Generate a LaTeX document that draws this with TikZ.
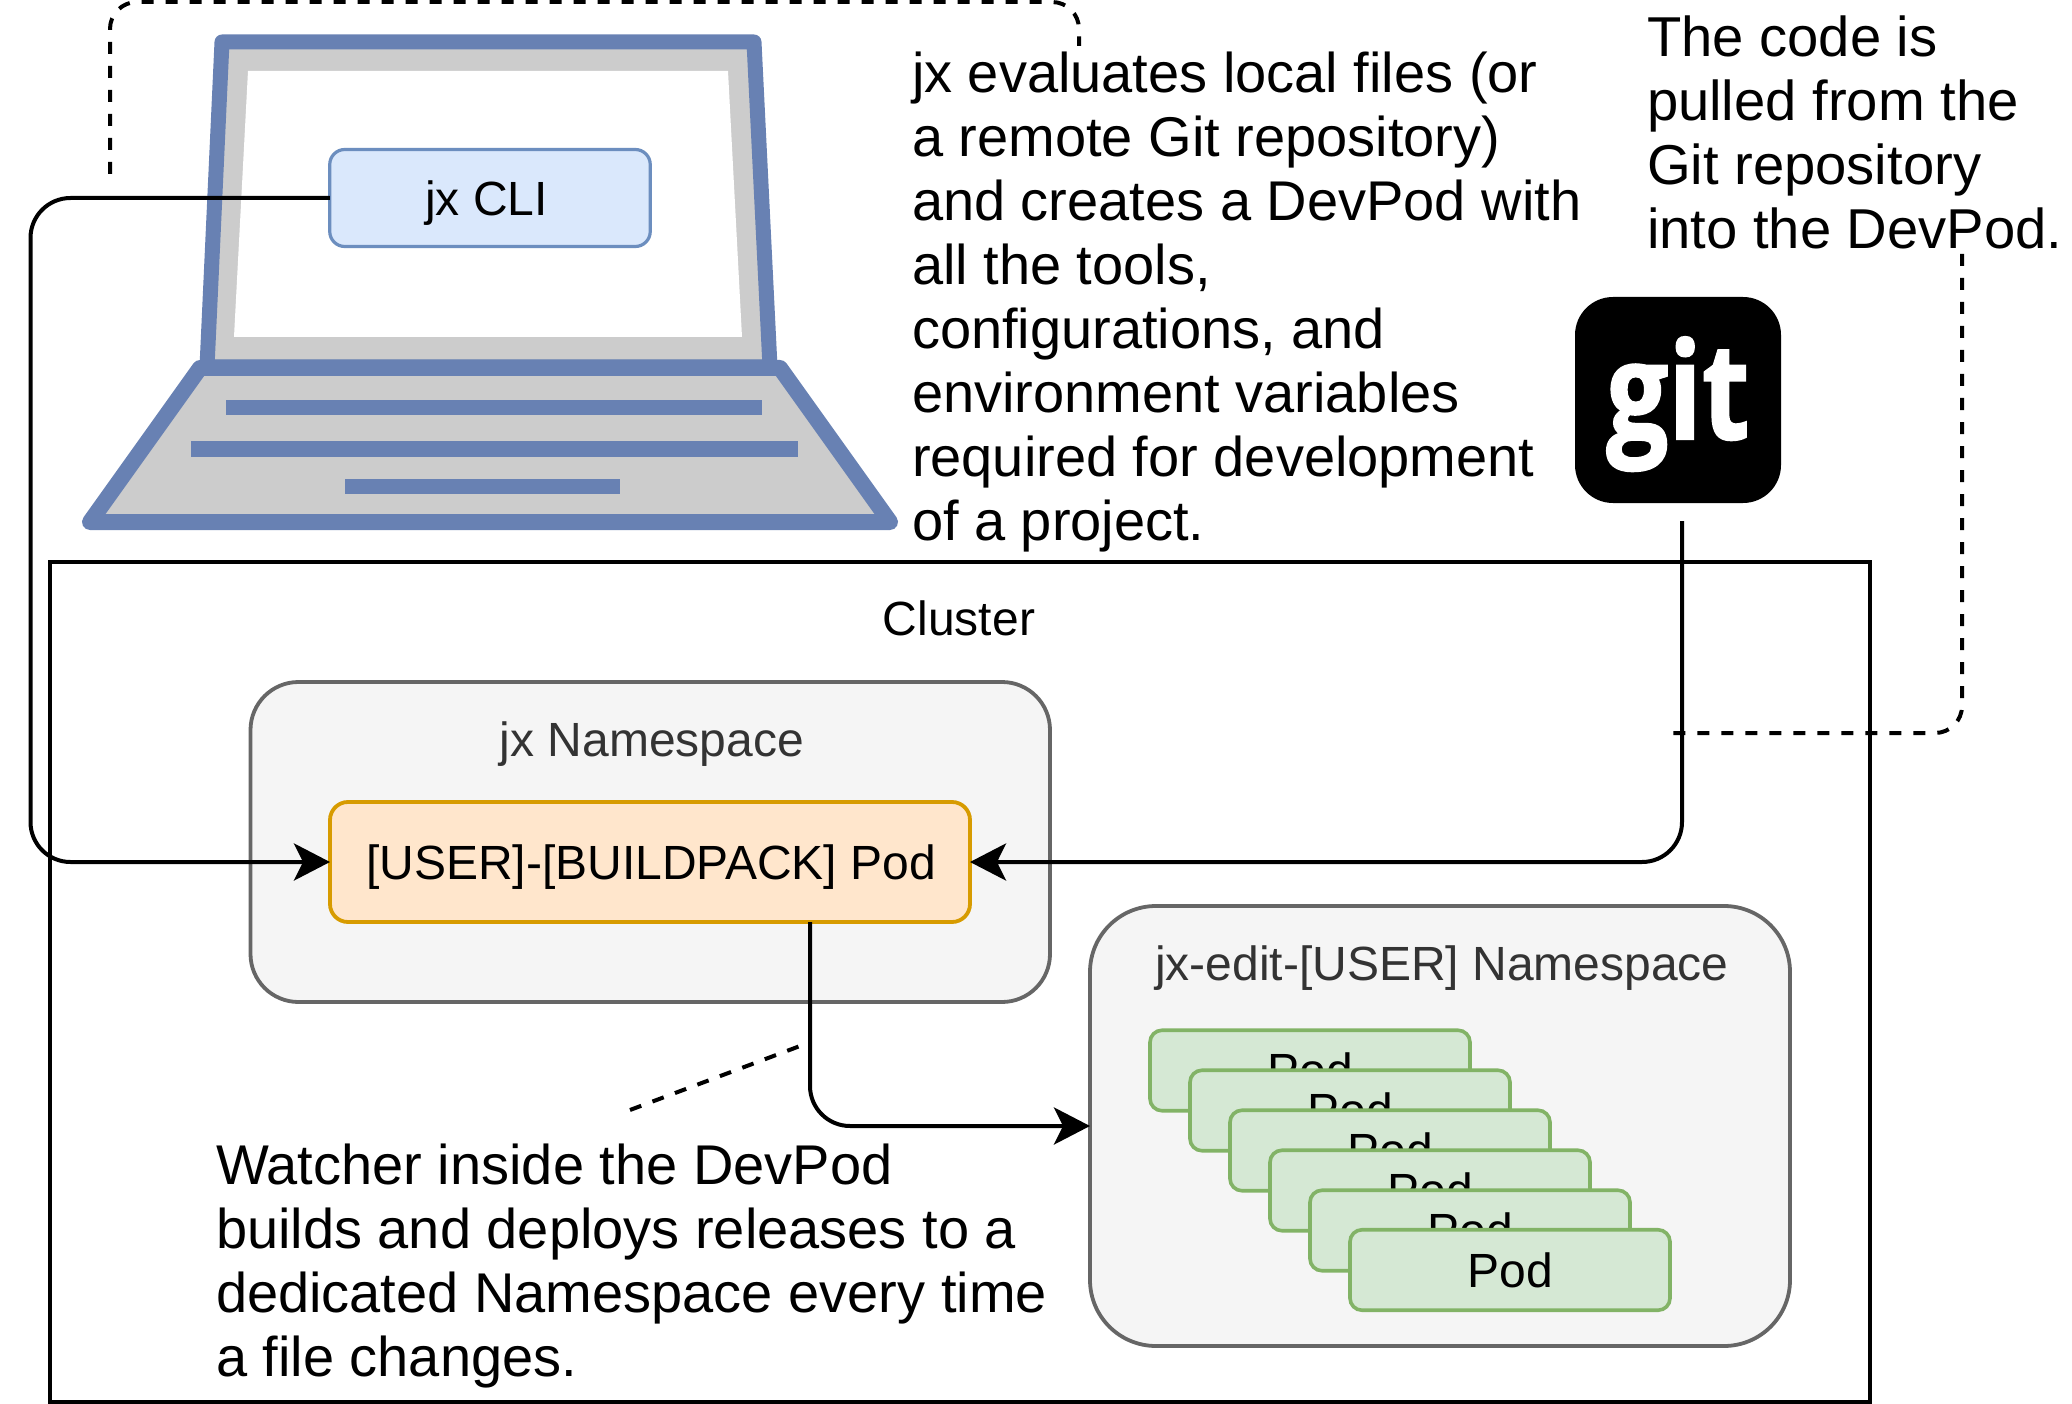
\documentclass[tikz,border=0pt]{standalone}
\usepackage{fontspec}
\setmainfont{Liberation Sans}
\newfontfamily\gitfont[BoldFeatures={FakeBold=1.5}]{Open Sans}
\usetikzlibrary{arrows.meta}
\definecolor{lapblue}{HTML}{6881B3}
\definecolor{lapgray}{HTML}{CCCCCC}
\definecolor{nsfill}{HTML}{F5F5F5}
\definecolor{nsline}{HTML}{666666}
\definecolor{nstext}{HTML}{333333}
\definecolor{clifill}{HTML}{DAE8FC}
\definecolor{cliline}{HTML}{6C8EBF}
\definecolor{podfill}{HTML}{FFE6CC}
\definecolor{podline}{HTML}{D79B00}
\definecolor{greenfill}{HTML}{D5E8D4}
\definecolor{greenline}{HTML}{82B366}
\tikzset{
  box/.style={draw,inner sep=0pt,outer sep=0pt,font=\fontsize{48}{55}\selectfont,text height=37pt,text depth=3pt},
  nsbox/.style={box,fill=nsfill,draw=nsline,line width=3.8pt,text=nstext},
  greenpod/.style={box,fill=greenfill,draw=greenline,line width=3.6pt,minimum width=320pt,minimum height=80.5pt,rounded corners=12pt},
  conn/.style={line width=4pt,draw=black,rounded corners=40pt,-{Stealth[length=36pt,width=37pt,inset=9pt]}},
  guide/.style={line width=4pt,draw=black,dash pattern=on 12pt off 12pt,rounded corners=27pt},
  bigtext/.style={inner sep=0pt,outer sep=0pt,align=left,font=\fontsize{56}{64}\selectfont},
  midtext/.style={inner sep=0pt,outer sep=0pt,font=\fontsize{48}{55}\selectfont},
  lap/.style={draw=lapblue,line join=round,line width=16pt,fill=lapgray},
  keybar/.style={fill=lapblue,draw=none}
}
\begin{document}
\begin{tikzpicture}[x=1pt,y=-1pt]
\useasboundingbox (0,0) rectangle (2072,1404);
% laptop
\draw[lap,line width=15pt] (222,42) -- (754,42) -- (770,367) -- (207,367) -- cycle;
\fill[white] (248,71) -- (728,71) -- (742,337) -- (234,337) -- cycle;
\draw[lap] (200,368) -- (780,368) -- (890,522) -- (90,522) -- cycle;
\fill[keybar] (226,400) rectangle (762,415);
\fill[keybar] (191,441) rectangle (798,457);
\fill[keybar] (345,479) rectangle (620,494);
\node[box,fill=clifill,draw=cliline,line width=3.2pt,minimum width=320.5pt,minimum height=97pt,rounded corners=15pt] (cli) at (490,198) {};
\node[midtext,anchor=base] (clitext) at (486.5,216) {jx CLI};
% cluster
\node[box,draw=black,line width=4pt,minimum width=1820pt,minimum height=840pt] (cluster) at (960,982) {};
\node[midtext,anchor=base] (clusterlabel) at (959,635.5) {Cluster};
% namespaces
\node[nsbox,minimum width=799.5pt,minimum height=320pt,rounded corners=48pt] (jxns) at (650.25,842) {};
\node[midtext,anchor=base,text=nstext] (jxnslabel) at (652,756) {jx Namespace};
\node[box,fill=podfill,draw=podline,line width=3.8pt,minimum width=640pt,minimum height=120pt,rounded corners=18pt] (pod) at (650,862) {\hspace{2pt}[USER]-[BUILDPACK] Pod};
\node[nsbox,minimum width=700pt,minimum height=440pt,rounded corners=66pt] (edit) at (1440,1126) {};
\node[midtext,anchor=base,text=nstext] (editlabel) at (1442,980) {jx-edit-[USER] Namespace};
% pods
\node[greenpod] (p1) at (1310,1070.5) {Pod};
\node[greenpod] (p2) at (1350,1110.5) {Pod};
\node[greenpod] (p3) at (1390,1150.5) {Pod};
\node[greenpod] (p4) at (1430,1190.5) {Pod};
\node[greenpod] (p5) at (1470,1230.5) {Pod};
\node[greenpod] (p6) at (1510,1270) {Pod};
% git
\node[draw=none,fill=black,inner sep=0pt,outer sep=0pt,minimum width=206pt,minimum height=206pt,rounded corners=38pt] (gitbox) at (1678,400) {};
\node[inner sep=0pt,outer sep=0pt,anchor=base,text=white,font=\gitfont\bfseries\fontsize{112}{112}\selectfont,transform shape,xscale=.98,yscale=1.2] (gitlabel) at (1678,439) {git};
% texts
\node[bigtext,anchor=base west] (t1) at (912,540.5) {jx evaluates local files (or\\a remote Git repository)\\and creates a DevPod with\\all the tools,\\configurations, and\\environment variables\\required for development\\of a project.};
\node[bigtext,anchor=base west,font=\fontsize{56.2}{64}\selectfont] (t2) at (1647,248.5) {The code is\\pulled from the\\Git repository\\into the DevPod.};
\node[bigtext,anchor=base west] (t3) at (216,1376.5) {Watcher inside the DevPod\\builds and deploys releases to a\\dedicated Namespace every time\\a file changes.};
% free ends
\coordinate (rail) at (30.5,500);
\coordinate (gitout) at (1682,521);
\coordinate (podout) at (810,922);
\coordinate (a1) at (110,174);
\coordinate (a2) at (110,2);
\coordinate (a3) at (1079,2);
\coordinate (a4) at (1079,46);
\coordinate (b1) at (1962,254);
\coordinate (b2) at (1962,733);
\coordinate (b3) at (1671,733);
\coordinate (c1) at (630,1110);
\coordinate (c2) at (800,1046);
% connectors
\draw[conn] (cli.west) -- (cli.west -| rail) -- (pod.west -| rail) -- (pod.west);
\draw[conn] (gitout) -- (gitout |- pod.east) -- (pod.east);
\draw[conn] (podout) -- (podout |- edit.west) -- (edit.west);
% dashed guides
\draw[guide] (a1) -- (a2) -- (a3) -- (a4);
\draw[guide] (b1) -- (b2) -- (b3);
\draw[guide] (c1) -- (c2);
\end{tikzpicture}
\end{document}
